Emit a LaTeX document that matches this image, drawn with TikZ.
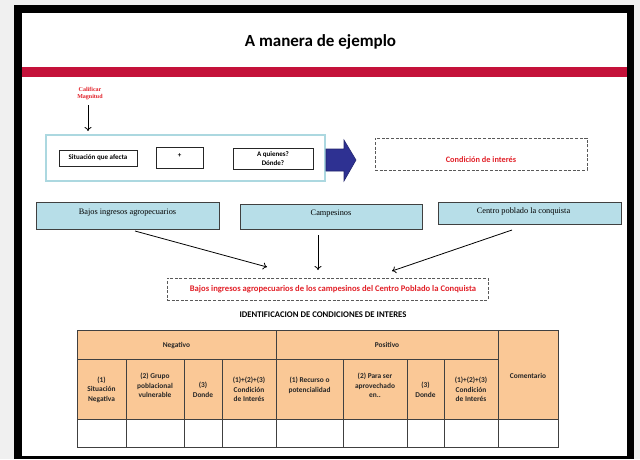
\documentclass[tikz,border=0pt]{standalone}
\usepackage{fontspec}
\setmainfont{Liberation Serif}
\setsansfont{Carlito}
\usetikzlibrary{arrows.meta}
\definecolor{bandred}{RGB}{196,18,58}
\definecolor{txtred}{RGB}{226,32,40}
\definecolor{lblue}{RGB}{183,222,232}
\definecolor{cyanedge}{RGB}{172,216,224}
\definecolor{navy}{RGB}{46,49,146}
\definecolor{peach}{RGB}{250,200,150}
\definecolor{edge}{RGB}{64,64,64}
\begin{document}
\begin{tikzpicture}[x=1pt,y=-1pt,
  titlefont/.style={font=\sffamily\bfseries\fontsize{17}{20}\selectfont, inner sep=0},
  califtext/.style={font=\bfseries\fontsize{6}{7}\selectfont, text=txtred, align=center, inner sep=0},
  conn/.style={line width=0.8pt, -{To[length=4pt,width=7pt]}},
  smallbox/.style={draw=black!85, line width=0.8pt, inner sep=0, align=center,
     font=\sffamily\bfseries\fontsize{7}{8.5}\selectfont},
  dashbox/.style={draw=black!65, line width=0.8pt, dash pattern=on 3pt off 1.6pt, inner sep=0, align=center},
  bluebox/.style={draw=edge, fill=lblue, line width=0.9pt, inner sep=0,
     font=\fontsize{8.3}{10}\selectfont, text height=6pt, text depth=8pt},
  tline/.style={draw=edge, line width=1pt},
  cell/.style={font=\sffamily\bfseries\fontsize{7.4}{9.6}\selectfont, align=center, inner sep=0, text=black!85}
]
\useasboundingbox (0,0) rectangle (640,459);
% slide frame
\fill[gray!12] (0,0) rectangle (640,459);
\fill[black] (14,5) rectangle (634,459);
\fill[white] (22,13) rectangle (627,456);
\fill[bandred] (22,67) rectangle (627,77);

\node[titlefont, anchor=base] (title) at (320.5,46) {A manera de ejemplo};

% calificar
\node[califtext] (calif) at (90,94) {Calificar\\Magnitud};
\coordinate (calA) at (88,105);
\coordinate (calB) at (88,131);
\draw[conn] (calA) -- (calB);

% situation frame
\node[draw=cyanedge, line width=2.5pt, minimum width=279, minimum height=46, inner sep=0] (frame) at (185.5,158) {};
\node[smallbox, minimum width=78, minimum height=16] (sit) at (98,158) {Situación que afecta};
\node[smallbox, minimum width=47, minimum height=21, text height=6pt, text depth=6pt] (plus) at (179.5,157.5) {+};
\node[smallbox, minimum width=80, minimum height=21] (quien) at (273,158.5) {A quienes?\\Dónde?};

% blue arrow
\fill[navy, draw=navy!75!black, line width=0.6pt] (326,149) -- (344,149) -- (344,140) -- (356,160)
  -- (344,181) -- (344,171) -- (326,171) -- cycle;

\node[dashbox, minimum width=212, minimum height=32, font=\sffamily\bfseries\fontsize{8.3}{10}\selectfont,
  text=txtred, text height=17pt, text depth=1pt] (cond) at (481,154) {Condición de interés};

% three blue boxes
\node[bluebox, minimum width=183, minimum height=27] (b1) at (127.5,215.5) {Bajos ingresos agropecuarios};
\node[bluebox, minimum width=182, minimum height=25] (b2) at (331,216.5) {Campesinos};
\node[bluebox, minimum width=183, minimum height=22, text depth=6pt] (b3) at (529.5,213) {Centro poblado la conquista\hspace*{12pt}};

\coordinate (a1s) at (135,231);
\coordinate (a1e) at (267,267);
\coordinate (a2s) at (318,235);
\coordinate (a2e) at (318,270);
\coordinate (a3s) at (512,230);
\coordinate (a3e) at (392,271);
\draw[conn] (a1s) -- (a1e);
\draw[conn] (a2s) -- (a2e);
\draw[conn] (a3s) -- (a3e);

\node[dashbox, minimum width=321, minimum height=22, font=\sffamily\bfseries\fontsize{8.6}{10}\selectfont,
  text=txtred] (res) at (327.5,289) {\hspace*{11pt}Bajos ingresos agropecuarios de los campesinos del Centro Poblado la Conquista};

\node[font=\sffamily\bfseries\fontsize{8.7}{10}\selectfont, anchor=base, inner sep=0] (ident) at (323,317)
  {IDENTIFICACION DE CONDICIONES DE INTERES};

% table
\fill[peach] (77,330) rectangle (558,419);
\fill[white] (77,419) rectangle (558,447);
\draw[tline] (77,330) rectangle (558,447);
\draw[tline] (77,359) -- (498,359);
\draw[tline] (77,419) -- (558,419);
\draw[tline] (276,330) -- (276,447);
\draw[tline] (498,330) -- (498,447);
\foreach \x in {126,184,222,343,407,444} \draw[tline] (\x,359) -- (\x,447);

\node[cell] (neg) at (176.5,345.5) {Negativo};
\node[cell] (pos) at (387,345) {Positivo};
\node[cell] (com) at (528,376) {Comentario};
\node[cell] (c1) at (101.5,389.5) {(1)\\Situación\\Negativa};
\node[cell] (c2) at (155,385.5) {(2) Grupo\\poblacional\\vulnerable};
\node[cell] (c3) at (203,389.5) {(3)\\Donde};
\node[cell] (c4) at (249,389.5) {(1)+(2)+(3)\\Condición\\de Interés};
\node[cell] (c5) at (309.5,385.5) {(1) Recurso o\\potencialidad};
\node[cell] (c6) at (375,385.5) {(2) Para ser\\aprovechado\\en..};
\node[cell] (c7) at (425.5,389.5) {(3)\\Donde};
\node[cell] (c8) at (471,389.5) {(1)+(2)+(3)\\Condición\\de Interés};
\end{tikzpicture}
\end{document}
